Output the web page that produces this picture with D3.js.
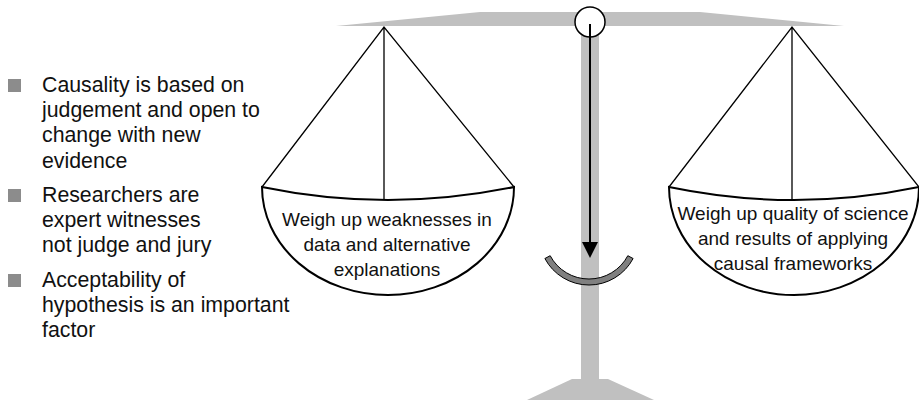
<!DOCTYPE html>
<html>
<head>
<meta charset="utf-8">
<script src="https://cdn.jsdelivr.net/npm/d3@7"></script>
<style>
  html, body { margin: 0; padding: 0; background: #fff; }
  svg { display: block; }
  text { font-family: "Liberation Sans", Arial, sans-serif; fill: #111; }
</style>
</head>
<body>
<div id="chart"></div>
<script>
// Bullet points on the left, one array of lines per bullet
const bullets = [
  ['Causality is based on', 'judgement and open to', 'change with new', 'evidence'],
  ['Researchers are', 'expert witnesses', 'not judge and jury'],
  ['Acceptability of', 'hypothesis is an important', 'factor']
];

// Labels inside the two scale pans
const panSides = ['left', 'right'];
const panLabels = [
  ['Weigh up weaknesses in', 'data and alternative', 'explanations'],
  ['Weigh up quality of science', 'and results of applying', 'causal frameworks']
];

const width = 919;
const height = 400;

const svg = d3.select('#chart')
  .append('svg')
  .attr('width', width)
  .attr('height', height);

// beam position (-1 = left pan, 0 = pivot, 1 = right pan) -> pixels
const beamX = d3.scaleLinear().domain([-1, 0, 1]).range([384, 590, 792]);
const pivotX = beamX(0);
const beamY = 12;

const grey = '#c0c0c0';

// beam
svg.append('path')
  .attr('d', d3.line()([[336, 26], [480, beamY], [700, beamY], [844, 26]]) + 'Z')
  .attr('fill', grey);

// post
svg.append('rect')
  .attr('x', pivotX - 9)
  .attr('y', beamY)
  .attr('width', 18)
  .attr('height', 379 - beamY)
  .attr('fill', grey);

// base
svg.append('path')
  .attr('d', d3.line()([[pivotX - 18, 379], [pivotX + 18, 379], [pivotX + 64, 400], [pivotX - 63, 400]]) + 'Z')
  .attr('fill', grey);

// pans
const rimY = 187;
const pans = svg.selectAll('g.pan')
  .data(panSides)
  .enter()
  .append('g')
  .attr('class', 'pan');

pans.each(function (side, i) {
  const g = d3.select(this);
  const ax = beamX(i === 0 ? -1 : 1);
  const cx = i === 0 ? 388 : 794;
  const half = i === 0 ? 126 : 125;
  const x0 = cx - half;
  const x1 = cx + half;

  // bowl
  g.append('path')
    .attr('d', `M${x0},${rimY} A${half},108 0 0 0 ${x1},${rimY} Q${cx},213 ${x0},${rimY}Z`)
    .attr('fill', '#fff')
    .attr('stroke', '#000')
    .attr('stroke-width', 2);

  // strings
  g.append('path')
    .attr('d', `M${x0},${rimY} L${ax},27 L${x1},${rimY} M${ax},27 L${ax},200`)
    .attr('fill', 'none')
    .attr('stroke', '#000')
    .attr('stroke-width', 1.3);

  // label
  const base = i === 0 ? 226 : 220;
  g.append('text')
    .attr('text-anchor', 'middle')
    .attr('font-size', 19)
    .selectAll('tspan')
    .data(panLabels[i])
    .enter()
    .append('tspan')
    .attr('x', cx - 1)
    .attr('y', (d, j) => base + j * 25)
    .text((d) => d);
});

// pivot
svg.append('circle')
  .attr('cx', pivotX)
  .attr('cy', 22)
  .attr('r', 15)
  .attr('fill', '#fff')
  .attr('stroke', '#000')
  .attr('stroke-width', 1.5);

// pointer
svg.append('line')
  .attr('x1', pivotX).attr('y1', 24)
  .attr('x2', pivotX).attr('y2', 244)
  .attr('stroke', '#000')
  .attr('stroke-width', 2);

svg.append('path')
  .attr('d', d3.line()([[pivotX - 8, 242], [pivotX + 8, 242], [pivotX, 258]]) + 'Z')
  .attr('fill', '#000');

// gauge arc
svg.append('path')
  .attr('transform', `translate(${pivotX - 1},235)`)
  .attr('d', d3.arc()
    .innerRadius(44)
    .outerRadius(50)
    .startAngle(Math.PI / 2 + 0.49)
    .endAngle(Math.PI * 1.5 - 0.49)())
  .attr('fill', '#808080')
  .attr('stroke', '#000')
  .attr('stroke-width', 1);

// bullet list
const blockTops = [92, 202, 287];
const list = svg.selectAll('g.bullet')
  .data(bullets)
  .enter()
  .append('g')
  .attr('class', 'bullet')
  .attr('transform', (d, i) => `translate(0,${blockTops[i]})`);

list.append('rect')
  .attr('x', 8)
  .attr('y', -13)
  .attr('width', 13)
  .attr('height', 13)
  .attr('fill', '#8c8c8c');

list.append('text')
  .attr('font-size', 21.3)
  .selectAll('tspan')
  .data((d) => d)
  .enter()
  .append('tspan')
  .attr('x', 42)
  .attr('y', (d, j) => j * 25.2)
  .text((d) => d);
</script>
</body>
</html>
